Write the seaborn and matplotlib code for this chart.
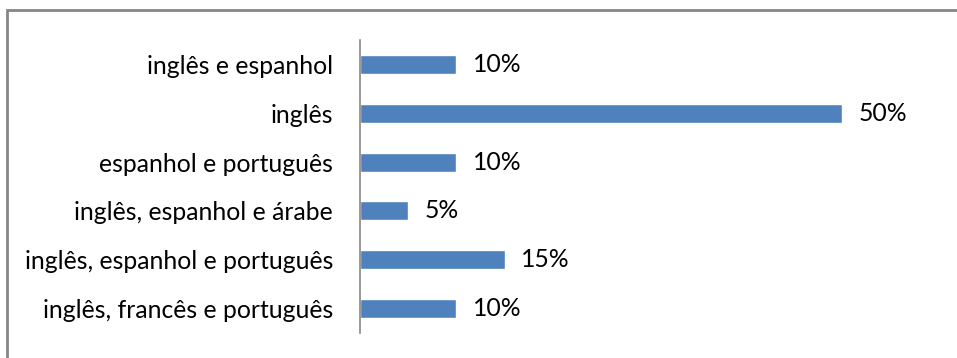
import matplotlib
matplotlib.use("Agg")
import matplotlib.pyplot as plt
import seaborn as sns
import pandas as pd
from matplotlib.patches import Rectangle

categories = [
    "inglês e espanhol",
    "inglês",
    "espanhol e português",
    "inglês, espanhol e árabe",
    "inglês, espanhol e português",
    "inglês, francês e português",
]
values = [10, 50, 10, 5, 15, 10]
value_labels = ["10%", "50%", "10%", "5%", "15%", "10%"]

sns.set_theme(style="white")
plt.rcParams["font.family"] = ["Lato", "DejaVu Sans"]

W, H = 957, 358
fig = plt.figure(figsize=(W / 100, H / 100), dpi=100)
ax = fig.add_axes([360 / W, 1 - 333 / H, (938 - 360) / W, (333 - 40) / H])

df = pd.DataFrame({"cat": categories, "val": values})
sns.barplot(data=df, x="val", y="cat", orient="h", color="#4F81BD",
            saturation=1, width=0.39, ax=ax)

ax.set_xlim(0, 60)
ax.set_ylim(len(categories) - 0.5, -0.5)
ax.set_xlabel("")
ax.set_ylabel("")
ax.set_xticks([])
for s in ["top", "right", "bottom"]:
    ax.spines[s].set_visible(False)
ax.spines["left"].set_color("#868686")
ax.spines["left"].set_linewidth(1.2)
ax.tick_params(axis="y", length=0, pad=27 * 0.72, labelsize=17.8, labelcolor="#000000")

ax.bar_label(ax.containers[0], labels=value_labels, padding=12,
             fontsize=17.8, color="#000000")

fig.patches.append(Rectangle((7.5 / W, -0.1), 1.2, 1 - 9.5 / H + 0.1,
                             transform=fig.transFigure, fill=False,
                             edgecolor="#868686", linewidth=2))

fig.savefig("out.png", dpi=100, facecolor="white")
